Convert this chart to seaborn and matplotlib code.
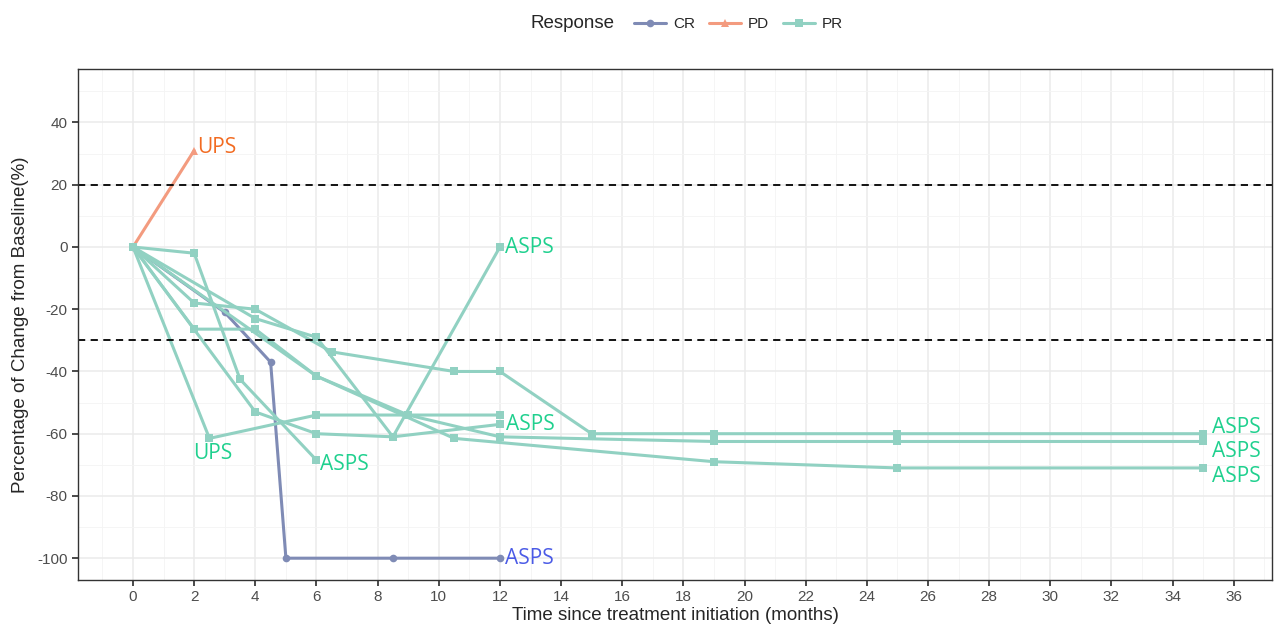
import pandas as pd
import matplotlib.pyplot as plt
import seaborn as sns
from matplotlib.ticker import MultipleLocator
from matplotlib.lines import Line2D

# one list per patient: months and % change from baseline
pd_ups_t = [0, 2]
pd_ups_v = [0, 31]

cr_asps_t = [0, 3, 4.5, 5, 8.5, 12]
cr_asps_v = [0, -21, -37, -100, -100, -100]

pr1_t = [0, 2, 3.5, 6]
pr1_v = [0, -2, -42.5, -68.5]
pr2_t = [0, 2.5, 6, 12]
pr2_v = [0, -61.5, -54, -54]
pr3_t = [0, 2, 4, 6, 10.5, 19, 25, 35]
pr3_v = [0, -26.4, -26.4, -41.5, -61.5, -69, -71, -71]
pr4_t = [0, 4, 6, 8.5, 12]
pr4_v = [0, -53, -60, -61, -57]
pr5_t = [0, 4, 6, 8.5, 12]
pr5_v = [0, -23, -29, -61, 0]
pr6_t = [0, 2, 4, 6.5, 10.5, 12, 15, 19, 25, 35]
pr6_v = [0, -18, -20, -33.7, -40, -40, -60, -60, -60, -60]
pr7_t = [0, 6, 9, 12, 19, 25, 35]
pr7_v = [0, -41.5, -54, -61, -62.5, -62.5, -62.5]

series = [
    ("P01", "PD", "UPS", pd_ups_t, pd_ups_v),
    ("P02", "CR", "ASPS", cr_asps_t, cr_asps_v),
    ("P03", "PR", "ASPS", pr1_t, pr1_v),
    ("P04", "PR", "UPS", pr2_t, pr2_v),
    ("P05", "PR", "ASPS", pr3_t, pr3_v),
    ("P06", "PR", "ASPS", pr4_t, pr4_v),
    ("P07", "PR", "ASPS", pr5_t, pr5_v),
    ("P08", "PR", "ASPS", pr6_t, pr6_v),
    ("P09", "PR", "ASPS", pr7_t, pr7_v),
]

rows = []
for pid, resp, hist, t, v in series:
    for ti, vi in zip(t, v):
        rows.append({"patient": pid, "Response": resp, "histology": hist, "time": ti, "change": vi})
df = pd.DataFrame(rows)

# label placement (repelled text, as in the original)
lab_text = ["UPS", "ASPS", "UPS", "ASPS", "ASPS", "ASPS", "ASPS", "ASPS", "ASPS"]
lab_resp = ["PD", "CR", "PR", "PR", "PR", "PR", "PR", "PR", "PR"]
lab_x = [2.1, 12.15, 1.96, 6.1, 12.15, 12.2, 35.3, 35.3, 35.3]
lab_y = [32, -100, -66.5, -70, -0.3, -57.2, -57.9, -65.6, -73.6]

palette = {"CR": "#7F8BB5", "PD": "#F39B7F", "PR": "#91D1C2"}
text_colors = {"CR": "#4B5BE6", "PD": "#F26B21", "PR": "#1FD08E"}
markers = {"CR": "o", "PD": "^", "PR": "s"}

sns.set_theme(style="whitegrid")
plt.rcParams["font.family"] = ["Liberation Sans", "DejaVu Sans"]
plt.rcParams["axes.unicode_minus"] = False

fig = plt.figure(figsize=(12.87, 6.27), dpi=100)
ax = fig.add_axes([0.0606, 0.075, 0.9277, 0.815])

sns.lineplot(
    data=df, x="time", y="change", hue="Response", style="Response",
    units="patient", estimator=None, sort=False,
    hue_order=["CR", "PD", "PR"], style_order=["CR", "PD", "PR"],
    palette=palette, markers=markers, dashes=False,
    linewidth=2.2, markersize=5.5, markeredgewidth=0, ax=ax, legend=False,
)

ax.axhline(20, color="black", linestyle=(0, (4, 3)), linewidth=1.3)
ax.axhline(-30, color="black", linestyle=(0, (4, 3)), linewidth=1.3)

for txt, r, x, y in zip(lab_text, lab_resp, lab_x, lab_y):
    ax.text(x, y, txt, color=text_colors[r], fontsize=15, ha="left", va="center",
            family=["Open Sans", "DejaVu Sans"])

ax.set_xlim(-1.8, 37.25)
ax.set_ylim(-107, 57.2)
ax.xaxis.set_major_locator(MultipleLocator(2))
ax.xaxis.set_minor_locator(MultipleLocator(1))
ax.yaxis.set_major_locator(MultipleLocator(20))
ax.yaxis.set_minor_locator(MultipleLocator(10))
ax.grid(which="major", color="#EBEBEB", linewidth=1.1)
ax.grid(which="minor", color="#F4F4F4", linewidth=0.6)
ax.set_facecolor("white")
for s in ax.spines.values():
    s.set_edgecolor("#333333")
    s.set_linewidth(1.0)
ax.tick_params(axis="both", which="major", labelsize=11, labelcolor="#4D4D4D",
               length=4, color="#333333", bottom=True, left=True)
ax.tick_params(which="minor", length=0)

ax.set_xlabel("Time since treatment initiation (months)", fontsize=13.5, labelpad=2)
ax.set_ylabel("Percentage of Change from Baseline(%)", fontsize=13.5, labelpad=6)

# legend on top: title to the left, entries in one row
fig.text(530 / 1287, 1 - 24 / 627, "Response", fontsize=13.5, ha="left", va="center")
handles = [
    Line2D([], [], color=palette[k], marker=markers[k], linewidth=2.2, markersize=5.5,
           markeredgewidth=0, label=k)
    for k in ["CR", "PD", "PR"]
]
fig.legend(handles=handles, loc="center left", bbox_to_anchor=(628 / 1287, 1 - 24 / 627),
           ncol=3, frameon=False, fontsize=11, handlelength=2.1,
           columnspacing=0.9, handletextpad=0.45, borderaxespad=0)

fig.savefig("out.png", dpi=100)
